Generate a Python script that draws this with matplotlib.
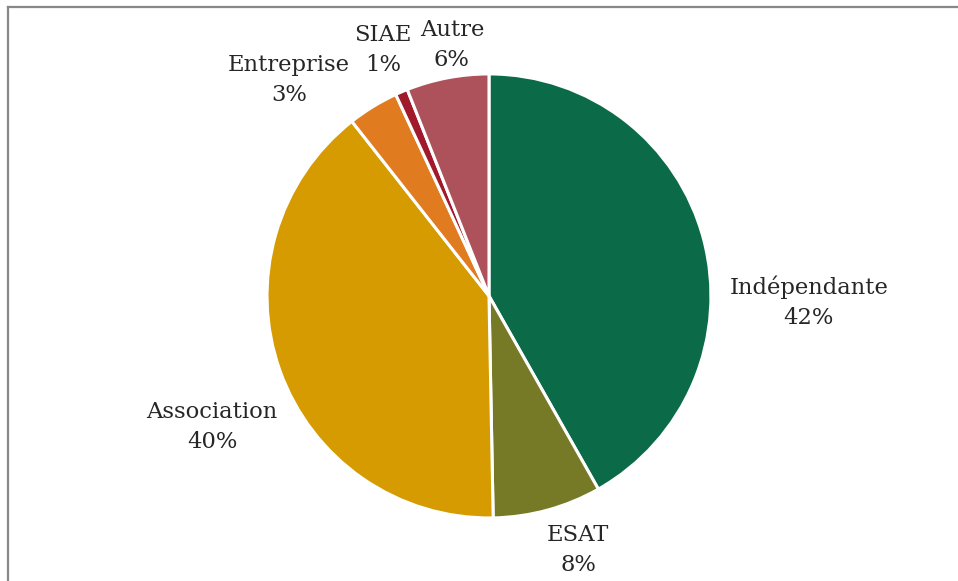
import numpy as np
import matplotlib
matplotlib.use('Agg')
import matplotlib.pyplot as plt
from matplotlib.lines import Line2D

# data
labels = ['Indépendante', 'ESAT', 'Association', 'Entreprise', 'SIAE', 'Autre']
values = [41.8, 7.9, 39.7, 3.7, 0.9, 6.0]
pct_text = ['42%', '8%', '40%', '3%', '1%', '6%']
colors = ['#0b6b48', '#767a27', '#d59b00', '#e07c1f', '#a01a2c', '#ad525b']

# label positions (pie radius = 1)
label_pos = [(1.441, -0.027), (0.401, -1.144), (-1.248, -0.590),
             (-0.901, 0.973), (-0.477, 1.108), (-0.167, 1.131)]

plt.rcParams['font.family'] = 'DejaVu Serif'

fig = plt.figure(figsize=(9.58, 5.81), dpi=100)
ax = fig.add_axes([0, 0, 1, 1])
ax.pie(values, colors=colors, startangle=90, counterclock=False,
       wedgeprops=dict(edgecolor='white', linewidth=2.2))
ax.set_aspect('auto')
ax.set_xlim(-2.203, 2.113)
ax.set_ylim(-1.284, 1.333)
ax.axis('off')

for lab, p, (x, y) in zip(labels, pct_text, label_pos):
    ax.text(x, y, lab + '\n' + p, ha='center', va='center',
            fontsize=16.3, color='#262626', linespacing=1.45)

# chart border (only top and left visible)
fig.add_artist(Line2D([7.5 / 958, 1], [1 - 6.5 / 581, 1 - 6.5 / 581],
                      transform=fig.transFigure, color='#888888', lw=1.6))
fig.add_artist(Line2D([7.5 / 958, 7.5 / 958], [0, 1 - 6.5 / 581],
                      transform=fig.transFigure, color='#888888', lw=1.6))

fig.savefig('out.png', dpi=100)
